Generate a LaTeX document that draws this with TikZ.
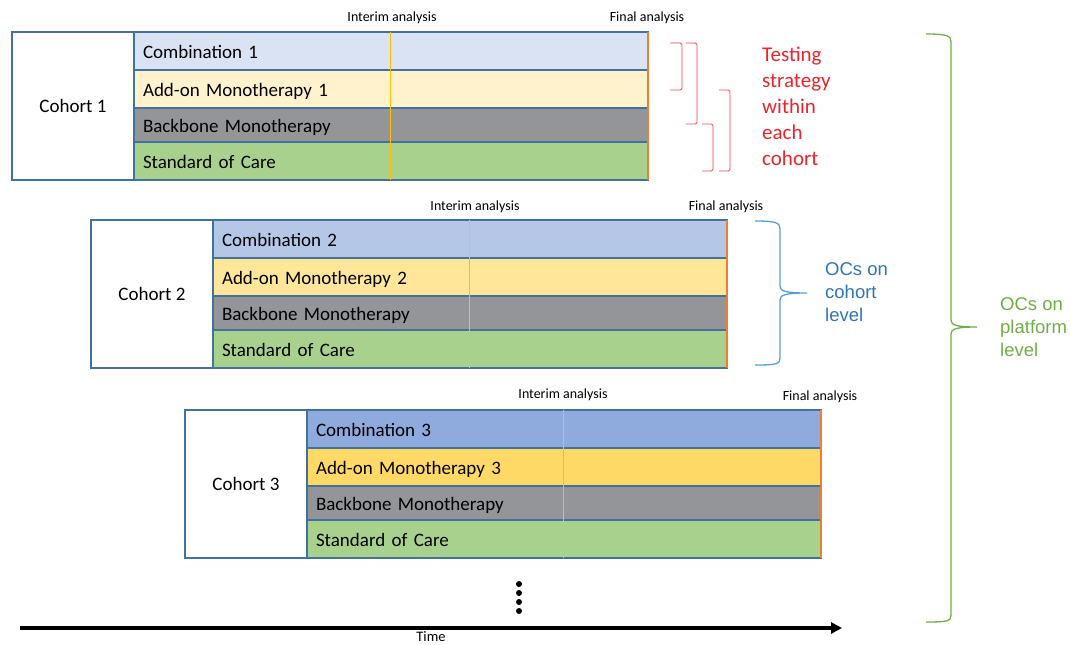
\documentclass[tikz,border=0pt]{standalone}
\usepackage{fontspec}
\setmainfont{Carlito}
\newfontfamily\arialfont{Liberation Sans}
\usetikzlibrary{arrows.meta,positioning}

\definecolor{border}{HTML}{41719C}
\definecolor{comb1}{HTML}{DAE3F3}
\definecolor{add1}{HTML}{FFF2CC}
\definecolor{comb2}{HTML}{B4C7E7}
\definecolor{add2}{HTML}{FFE699}
\definecolor{comb3}{HTML}{8FAADC}
\definecolor{add3}{HTML}{FFD966}
\definecolor{backbone}{HTML}{939598}
\definecolor{soc}{HTML}{A9D18E}
\definecolor{interimc}{HTML}{FFC000}
\definecolor{finalc}{HTML}{ED7D31}
\definecolor{testred}{HTML}{E8242C}
\definecolor{ocblue}{HTML}{2E75B6}
\definecolor{braceblue}{HTML}{5B9BD5}
\definecolor{ocgreen}{HTML}{70AD47}

\tikzset{
  cell/.style={draw=border, line width=2.5pt, fill=white, outer sep=0pt, anchor=north west,
    minimum width=122pt, minimum height=148pt, font=\fontsize{19}{23}\selectfont},
  arm/.style={draw=border, line width=2.8pt, outer sep=0pt, anchor=north west,
    minimum width=514pt, text width=496pt, inner xsep=9pt, inner ysep=0pt, align=left,
    text height=15.5pt, text depth=1.5pt, font=\fontsize{19}{23}\selectfont},
  note/.style={inner sep=0pt, font=\fontsize{14}{16}\selectfont},
  interim/.style={draw=interimc, line width=0.8pt},
  final/.style={draw=finalc, line width=2.8pt},
  testbr/.style={draw=testred!85, line width=0.9pt, rounded corners=1.5pt},
  octext/.style={inner sep=0pt, align=left, font=\arialfont\fontsize{18.5}{23}\selectfont},
}

\begin{document}
\begin{tikzpicture}[x=1pt,y=-1pt]
\useasboundingbox (0,0) rectangle (1071,645);

% cohort 1
\node[cell] (k1) at (12,32) {Cohort 1};
\node[arm, fill=comb1, minimum height=38pt] (k1a) at (k1.north east) {Combination 1};
\node[arm, fill=add1, minimum height=38pt] (k1b) at (k1a.south west) {Add-on Monotherapy 1};
\node[arm, fill=backbone, minimum height=34pt] (k1c) at (k1b.south west) {Backbone Monotherapy};
\node[arm, fill=soc, minimum height=38pt] (k1d) at (k1c.south west) {Standard of Care};
\coordinate (i1) at (390,32);
\draw[interim] (i1) -- (i1 |- k1d.south);
\draw[final] (k1a.north east) -- (k1d.south east);
\node[note] (i1t) at (392,18) {Interim analysis};
\node[note] (f1t) at (647,18) {Final analysis};

% cohort 2
\node[cell] (k2) at (91,220) {Cohort 2};
\node[arm, fill=comb2, minimum height=38pt] (k2a) at (k2.north east) {Combination 2};
\node[arm, fill=add2, minimum height=38pt] (k2b) at (k2a.south west) {Add-on Monotherapy 2};
\node[arm, fill=backbone, minimum height=34pt] (k2c) at (k2b.south west) {Backbone Monotherapy};
\node[arm, fill=soc, minimum height=38pt] (k2d) at (k2c.south west) {Standard of Care};
\coordinate (i2) at (469,220);
\draw[interim] (i2) -- (i2 |- k2d.south);
\draw[final] (k2a.north east) -- (k2d.south east);
\node[note] (i2t) at (475,207) {Interim analysis};
\node[note] (f2t) at (726,207) {Final analysis};

% cohort 3
\node[cell] (k3) at (185,410) {Cohort 3};
\node[arm, fill=comb3, minimum height=38pt] (k3a) at (k3.north east) {Combination 3};
\node[arm, fill=add3, minimum height=38pt] (k3b) at (k3a.south west) {Add-on Monotherapy 3};
\node[arm, fill=backbone, minimum height=34pt] (k3c) at (k3b.south west) {Backbone Monotherapy};
\node[arm, fill=soc, minimum height=38pt] (k3d) at (k3c.south west) {Standard of Care};
\coordinate (i3) at (563,410);
\draw[interim] (i3) -- (i3 |- k3d.south);
\draw[final] (k3a.north east) -- (k3d.south east);
\node[note] (i3t) at (563,395) {Interim analysis};
\node[note] (f3t) at (820,397) {Final analysis};

% testing strategy
\draw[testbr] (670,43) -- (682,43) -- (682,90) -- (670,90);
\draw[testbr] (686,43) -- (697,43) -- (697,124) -- (686,124);
\draw[testbr] (702,124) -- (713,124) -- (713,171) -- (702,171);
\draw[testbr] (719,90) -- (730,90) -- (730,171) -- (719,171);
\node[inner sep=0pt, align=left, text=testred, font=\fontsize{21}{26}\selectfont, anchor=north west]
  (test) at (762,47) {Testing\\strategy\\within\\each\\cohort};

% OCs
\draw[braceblue, line width=1.3pt] (755,221) .. controls (777,221) and (780,223) .. (780,229)
  -- (780,286) .. controls (780,291) and (785,293) .. (807,293)
  .. controls (785,293) and (780,295) .. (780,300)
  -- (780,358) .. controls (780,364) and (777,365) .. (755,365);
\node[octext, text=ocblue, anchor=west] (oc1) at (825,292) {OCs on\\cohort\\level};
\draw[ocgreen, line width=1.3pt] (926,34) .. controls (948,34) and (951,36) .. (951,42)
  -- (951,320) .. controls (951,325) and (956,327) .. (977,327)
  .. controls (956,327) and (951,329) .. (951,334)
  -- (951,615) .. controls (951,621) and (948,622) .. (926,622);
\node[octext, text=ocgreen, anchor=west] (oc2) at (1000,327) {OCs on\\platform\\level};

% time
\fill (519,584) circle (3pt) (519,593) circle (3pt) (519,602) circle (3pt) (519,611) circle (3pt);
\coordinate (t0) at (20,628);
\coordinate (t1) at (842,628);
\draw[line width=3.5pt, -{Triangle[length=11pt,width=11pt]}] (t0) -- (t1);
\node[note, font=\fontsize{14.5}{16}\selectfont] (time) at (431,637) {Time};

\end{tikzpicture}
\end{document}
